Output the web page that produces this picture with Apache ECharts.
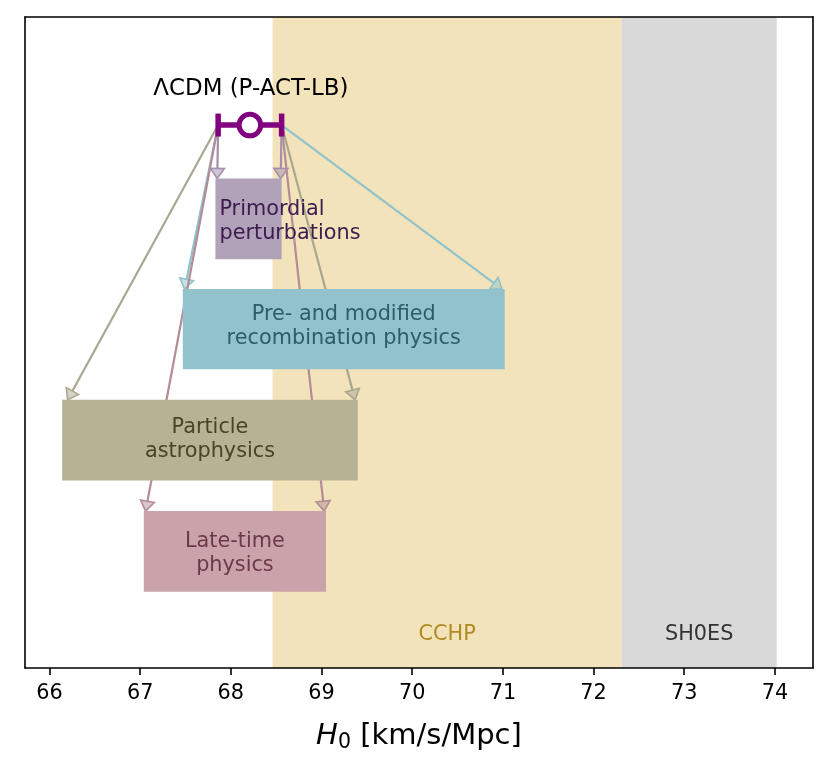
<!DOCTYPE html>
<html><head><meta charset="utf-8">
<script src="https://cdn.jsdelivr.net/npm/echarts@6/dist/echarts.min.js"></script>
<style>html,body{margin:0;padding:0;background:#fff}#c{width:830px;height:765px}</style>
</head><body><div id="c"></div>
<script>
// ---------- data ----------
const xTicks = [66, 67, 68, 69, 70, 71, 72, 73, 74];
const xMin = 65.73, xMax = 74.42;
const yMin = 0, yMax = 10;

const bandNames = ['CCHP', 'SH0ES'];
const bandLow = [68.46, 72.31];
const bandHigh = [72.31, 74.02];

const lcdmName = 'ΛCDM (P-ACT-LB)';
const lcdmH0 = 68.21;
const lcdmLow = 67.86;
const lcdmHigh = 68.56;
const lcdmY = 8.34;

const boxNames = ['Primordial\nperturbations', 'Pre- and modified\nrecombination physics', 'Particle\nastrophysics', 'Late-time\nphysics'];
const boxLow = [67.83, 67.47, 66.14, 67.04];
const boxHigh = [68.56, 71.02, 69.40, 69.05];
const boxTop = [7.52, 5.82, 4.12, 2.41];
const boxBottom = [6.28, 4.59, 2.88, 1.17];
const arrowEndLow = [67.85, 67.49, 66.20, 67.06];
const arrowEndHigh = [68.55, 70.99, 69.37, 69.03];

// ---------- styles ----------
const FONT = '"DejaVu Sans", "Noto Sans", sans-serif';
const bandColors = ['#f3e3bb', '#d9d9d9'];
const bandTextColors = ['#b08a24', '#333333'];
const boxColors = ['#b1a1b9', '#92c2cc', '#b6b293', '#caa2aa'];
const boxTextColors = ['#3c1b4f', '#2e5d68', '#494427', '#6c3a47'];
const boxTextShift = [4, -2, 0, 3];
const arrowColors = ['#a48eae', '#90c3cb', '#a8a78f', '#b38c96'];
const arrowFill = ['rgba(164,142,174,0.5)', 'rgba(144,195,203,0.5)', 'rgba(168,167,143,0.5)', 'rgba(179,140,150,0.5)'];
const purple = '#800080';

const bandData = bandLow.map((v, i) => [v, bandHigh[i], i]);
const boxData = boxLow.map((v, i) => [v, boxHigh[i], boxTop[i], boxBottom[i], i]);
const arrowData = [];
boxLow.forEach((v, i) => {
  arrowData.push([lcdmLow, lcdmY, arrowEndLow[i], boxTop[i], i]);
  arrowData.push([lcdmHigh, lcdmY, arrowEndHigh[i], boxTop[i], i]);
});
const lcdmData = [[lcdmH0, lcdmY, lcdmLow, lcdmHigh]];

function renderBand(params, api) {
  const i = api.value(2);
  const a = api.coord([api.value(0), yMax]);
  const b = api.coord([api.value(1), yMin]);
  return { type: 'group', children: [
    { type: 'rect', shape: { x: a[0], y: a[1], width: b[0] - a[0], height: b[1] - a[1] }, style: { fill: bandColors[i] } },
    { type: 'text', style: { text: bandNames[i], x: (a[0] + b[0]) / 2, y: b[1] - 33, align: 'center', verticalAlign: 'middle', font: '20.8px ' + FONT, fill: bandTextColors[i] } }
  ]};
}

function renderArrow(params, api) {
  const i = api.value(4);
  const p0 = api.coord([api.value(0), api.value(1)]);
  const p1 = api.coord([api.value(2), api.value(3)]);
  const dx = p1[0] - p0[0], dy = p1[1] - p0[1];
  const len = Math.sqrt(dx * dx + dy * dy);
  const ux = dx / len, uy = dy / len;
  const hl = 10, hw = 7;
  const bx = p1[0] - ux * hl, by = p1[1] - uy * hl;
  return { type: 'group', children: [
    { type: 'line', shape: { x1: p0[0], y1: p0[1], x2: bx, y2: by }, style: { stroke: arrowColors[i], lineWidth: 2.2 } },
    { type: 'polygon', shape: { points: [[p1[0], p1[1]], [bx - uy * hw, by + ux * hw], [bx + uy * hw, by - ux * hw]] },
      style: { fill: arrowFill[i], stroke: arrowColors[i], lineWidth: 1.6 } }
  ]};
}

function renderBox(params, api) {
  const i = api.value(4);
  const a = api.coord([api.value(0), api.value(2)]);
  const b = api.coord([api.value(1), api.value(3)]);
  const w = b[0] - a[0], h = b[1] - a[1];
  const left = i === 0;
  return { type: 'group', children: [
    { type: 'rect', shape: { x: a[0], y: a[1], width: w, height: h }, style: { fill: boxColors[i] } },
    { type: 'text', style: { text: boxNames[i], x: left ? a[0] + 4 : a[0] + w / 2, y: a[1] + h / 2 - 1 + boxTextShift[i],
      align: left ? 'left' : 'center', verticalAlign: 'middle', font: '20.8px ' + FONT, lineHeight: 24, fill: boxTextColors[i] } }
  ]};
}

function renderLcdm(params, api) {
  const c = api.coord([api.value(0), api.value(1)]);
  const l = api.coord([api.value(2), api.value(1)]);
  const r = api.coord([api.value(3), api.value(1)]);
  return { type: 'group', children: [
    { type: 'line', shape: { x1: l[0], y1: l[1], x2: r[0], y2: r[1] }, style: { stroke: purple, lineWidth: 5.5 } },
    { type: 'line', shape: { x1: l[0], y1: l[1] - 11.5, x2: l[0], y2: l[1] + 11.5 }, style: { stroke: purple, lineWidth: 5.5 } },
    { type: 'line', shape: { x1: r[0], y1: r[1] - 11.5, x2: r[0], y2: r[1] + 11.5 }, style: { stroke: purple, lineWidth: 5.5 } },
    { type: 'circle', shape: { cx: c[0], cy: c[1], r: 10.8 }, style: { fill: '#ffffff', stroke: purple, lineWidth: 5 } },
    { type: 'text', style: { text: lcdmName, x: c[0] + 1, y: c[1] - 36, align: 'center', verticalAlign: 'middle', font: '22.9px ' + FONT, fill: '#000' } }
  ]};
}

const chart = echarts.init(document.getElementById('c'), null, { renderer: 'canvas' });
const axisLineStyle = { color: '#000', width: 1.6 };
chart.setOption({
  animation: false,
  backgroundColor: '#ffffff',
  grid: { left: 25, right: 17, top: 17, bottom: 97 },
  xAxis: [
    { type: 'value', min: xMin, max: xMax, position: 'bottom', z: 10,
      axisLine: { show: true, onZero: false, lineStyle: axisLineStyle },
      axisTick: { show: true, customValues: xTicks, length: 7, lineStyle: axisLineStyle },
      axisLabel: { show: true, customValues: xTicks, fontSize: 20.8, fontFamily: FONT, color: '#000', margin: 15 },
      splitLine: { show: false },
      name: '{i|H}{s|0}{n| [km/s/Mpc]}', nameLocation: 'middle', nameGap: 51,
      nameTextStyle: { rich: {
        i: { fontSize: 29, fontStyle: 'italic', fontFamily: FONT, color: '#000', lineHeight: 34 },
        s: { fontSize: 20.5, fontFamily: FONT, color: '#000', lineHeight: 24, verticalAlign: 'bottom' },
        n: { fontSize: 29, fontFamily: FONT, color: '#000', lineHeight: 34 }
      } } },
    { type: 'value', min: xMin, max: xMax, position: 'top', z: 10,
      axisLine: { show: true, onZero: false, lineStyle: axisLineStyle },
      axisTick: { show: false }, axisLabel: { show: false }, splitLine: { show: false } }
  ],
  yAxis: [
    { type: 'value', min: yMin, max: yMax, position: 'left', z: 10,
      axisLine: { show: true, onZero: false, lineStyle: axisLineStyle },
      axisTick: { show: false }, axisLabel: { show: false }, splitLine: { show: false } },
    { type: 'value', min: yMin, max: yMax, position: 'right', z: 10,
      axisLine: { show: true, onZero: false, lineStyle: axisLineStyle },
      axisTick: { show: false }, axisLabel: { show: false }, splitLine: { show: false } }
  ],
  series: [
    { type: 'custom', name: 'bands', z: 1, data: bandData, renderItem: renderBand, encode: { x: [0, 1] }, silent: true },
    { type: 'custom', name: 'arrows', z: 2, data: arrowData, renderItem: renderArrow, encode: { x: [0, 2], y: [1, 3] }, silent: true },
    { type: 'custom', name: 'boxes', z: 3, data: boxData, renderItem: renderBox, encode: { x: [0, 1], y: [2, 3] }, silent: true },
    { type: 'custom', name: 'lcdm', z: 4, data: lcdmData, renderItem: renderLcdm, encode: { x: [0, 2, 3], y: 1 }, silent: true }
  ]
});
</script>
</body></html>
